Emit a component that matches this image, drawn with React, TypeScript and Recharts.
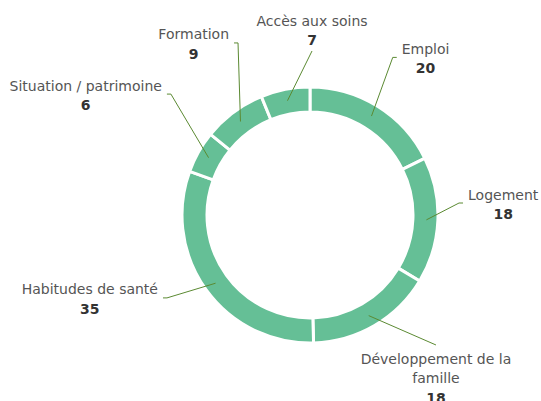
import { Pie, PieChart } from "recharts";

const CATEGORIES = [
  "Emploi",
  "Logement",
  "Développement de la famille",
  "Habitudes de santé",
  "Situation / patrimoine",
  "Formation",
  "Accès aux soins",
];
const VALUES = [20, 18, 18, 35, 6, 9, 7];

// Placement des étiquettes (coude de la ligne de rappel) : angle horaire depuis midi, distance au centre
const LABEL_ANGLE = [27.7, 85.4, 135.9, 239.9, 311, 337.3, 0.7];
const LABEL_RADIUS = [178, 149.5, 181, 165.3, 184.3, 186.5, 164];
const LABEL_SIDE = ["right", "right", "below", "left", "left", "left", "above"];

const VERT = "#65bf96";
const LIGNE = "#5b8a32";
const TEXTE = "#555555";
const TEXTE_FORT = "#333333";
const FONT = "DejaVu Sans";
const FS = 14;
const LH = 19.5;
const MAX_W = 165;

let ctx: CanvasRenderingContext2D | null = null;
function measure(t: string, bold = false) {
  if (!ctx) ctx = document.createElement("canvas").getContext("2d");
  if (!ctx) return t.length * FS * 0.6;
  ctx.font = `${bold ? "bold " : ""}${FS}px "${FONT}"`;
  return ctx.measureText(t).width;
}

function wrap(t: string) {
  const words = t.split(" ");
  const lines: string[] = [];
  let cur = "";
  for (const w of words) {
    const next = cur ? cur + " " + w : w;
    if (cur && measure(next) > MAX_W) {
      lines.push(cur);
      cur = w;
    } else cur = next;
  }
  if (cur) lines.push(cur);
  return lines;
}

function renderLabel(props: any) {
  const { cx, cy, midAngle, innerRadius, outerRadius, index } = props;
  const name: string = props.name ?? CATEGORIES[index];
  const value: number = props.value ?? VALUES[index];
  const RAD = Math.PI / 180;
  const r0 = (innerRadius + outerRadius) / 2 + 1;
  const x0 = cx + r0 * Math.cos(-midAngle * RAD);
  const y0 = cy + r0 * Math.sin(-midAngle * RAD);
  const a = LABEL_ANGLE[index] * RAD;
  const x1 = cx + LABEL_RADIUS[index] * Math.sin(a);
  const y1 = cy - LABEL_RADIUS[index] * Math.cos(a);
  const side = LABEL_SIDE[index];
  const lines = wrap(name);
  const w = Math.max(...lines.map((l) => measure(l)));

  let points = `${x0},${y0} ${x1},${y1}`;
  let tx = x1;
  let firstBase = 0;
  if (side === "right") {
    points += ` ${x1 + 4},${y1}`;
    tx = x1 + 9 + w / 2;
    firstBase = y1 - 3.5 - (lines.length - 1) * LH / 2;
  } else if (side === "left") {
    points += ` ${x1 - 4},${y1}`;
    tx = x1 - 9 - w / 2;
    firstBase = y1 - 3.5 - (lines.length - 1) * LH / 2;
  } else if (side === "above") {
    firstBase = y1 - 6 - lines.length * LH;
  } else {
    firstBase = y1 + 19;
  }

  return (
    <g key={`lbl-${index}`}>
      <polyline points={points} fill="none" stroke={LIGNE} strokeWidth={1} />
      {lines.map((l, i) => (
        <text
          key={i}
          x={tx}
          y={firstBase + i * LH}
          textAnchor="middle"
          fontFamily={FONT}
          fontSize={FS}
          fill={TEXTE}
        >
          {l}
        </text>
      ))}
      <text
        x={tx}
        y={firstBase + lines.length * LH}
        textAnchor="middle"
        fontFamily={FONT}
        fontSize={FS}
        fontWeight="bold"
        fill={TEXTE_FORT}
      >
        {value}
      </text>
    </g>
  );
}

export default function App() {
  const data = CATEGORIES.map((name, i) => ({ name, value: VALUES[i] }));
  return (
    <div style={{ position: "absolute", left: 0, top: 0, width: 541, height: 401, background: "#fff" }}>
      <PieChart width={541} height={401} margin={{ top: 0, right: 0, bottom: 0, left: 0 }}>
        <Pie
          data={data}
          dataKey="value"
          nameKey="name"
          cx={310}
          cy={215}
          innerRadius={103}
          outerRadius={128}
          startAngle={90}
          endAngle={-270}
          fill={VERT}
          stroke="#ffffff"
          strokeWidth={3}
          labelLine={false}
          label={renderLabel}
          isAnimationActive={false}
        />
      </PieChart>
    </div>
  );
}
